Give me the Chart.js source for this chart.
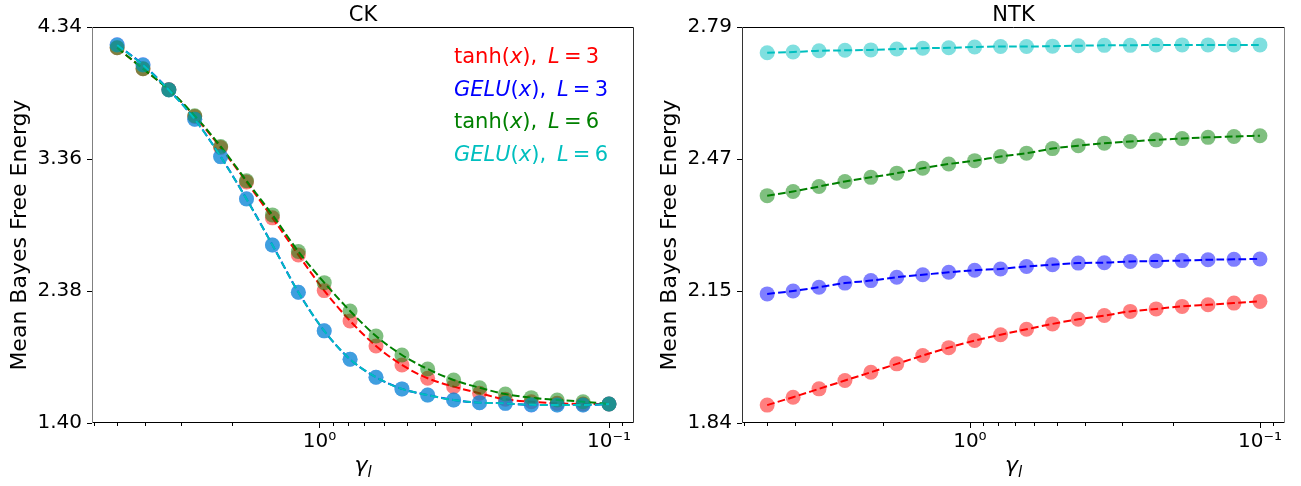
<!DOCTYPE html>
<html>
<head>
<meta charset="utf-8">
<script src="https://cdn.jsdelivr.net/npm/chart.js"></script>
<style>
  body { margin: 0; background: #fff; }
  #wrap { position: relative; width: 1301px; height: 486px; }
  canvas { position: absolute; top: 0; }
</style>
</head>
<body>
<div id="wrap">
  <canvas id="ckChart" width="650" height="486" style="left:0"></canvas>
  <canvas id="ntkChart" width="651" height="486" style="left:650px"></canvas>
</div>
<script>
// gamma_l grid, shared by both panels
const gammas = [5.000, 4.070, 3.313, 2.697, 2.195, 1.787, 1.454, 1.183, 0.963, 0.784,
                0.638, 0.519, 0.423, 0.344, 0.280, 0.228, 0.1855, 0.151, 0.1229, 0.100];

// CK panel
const ckTanhL3 = [4.186, 4.030, 3.874, 3.676, 3.445, 3.190, 2.923, 2.648, 2.383, 2.158,
                  1.972, 1.831, 1.732, 1.670, 1.621, 1.576, 1.558, 1.546, 1.541, 1.541];
const ckGeluL3 = [4.208, 4.060, 3.874, 3.656, 3.378, 3.064, 2.722, 2.371, 2.084, 1.873,
                  1.740, 1.653, 1.608, 1.571, 1.551, 1.546, 1.534, 1.534, 1.534, 1.541];
const ckTanhL6 = [4.186, 4.030, 3.874, 3.681, 3.453, 3.198, 2.945, 2.673, 2.442, 2.232,
                  2.046, 1.905, 1.801, 1.719, 1.662, 1.615, 1.588, 1.571, 1.558, 1.541];
const ckGeluL6 = [4.206, 4.058, 3.872, 3.655, 3.377, 3.063, 2.721, 2.371, 2.084, 1.873,
                  1.740, 1.653, 1.607, 1.571, 1.551, 1.546, 1.535, 1.534, 1.534, 1.541];

// NTK panel
const ntkTanhL3 = [1.879, 1.898, 1.918, 1.938, 1.958, 1.978, 1.998, 2.017, 2.034, 2.048,
                   2.061, 2.074, 2.085, 2.094, 2.104, 2.110, 2.116, 2.120, 2.124, 2.128];
const ntkGeluL3 = [2.146, 2.153, 2.162, 2.172, 2.178, 2.186, 2.192, 2.198, 2.203, 2.206,
                   2.212, 2.216, 2.220, 2.221, 2.224, 2.225, 2.226, 2.228, 2.229, 2.230];
const ntkTanhL6 = [2.382, 2.392, 2.404, 2.416, 2.426, 2.436, 2.448, 2.458, 2.466, 2.476,
                   2.484, 2.495, 2.502, 2.508, 2.512, 2.516, 2.519, 2.522, 2.524, 2.526];
const ntkGeluL6 = [2.725, 2.727, 2.730, 2.731, 2.732, 2.734, 2.736, 2.737, 2.739, 2.740,
                   2.740, 2.741, 2.742, 2.743, 2.743, 2.744, 2.744, 2.744, 2.744, 2.744];

// axis ticks
const ckYTicks = [1.40, 2.38, 3.36, 4.34];
const ntkYTicks = [1.836, 2.153, 2.470, 2.787];
const xTickValues = [6, 5, 4, 3, 2, 1, 0.9, 0.8, 0.7, 0.6, 0.5, 0.4, 0.3, 0.2, 0.1, 0.09];
const xTickLabels = { 1: '10\u2070', 0.1: '10\u207B\u00B9' };

// series colours, in drawing order (later ones sit on top)
const colors = ['#ff0000', '#0000ff', '#008000', '#00bfbf'];

// legend entries: [text, italic]
const legendParts = [
  [['tanh(', 0], ['x', 1], ['), \u2009', 0], ['L', 1], ['\u2009=\u20093', 0]],
  [['GELU', 1], ['(', 0], ['x', 1], ['), \u2009', 0], ['L', 1], ['\u2009=\u20093', 0]],
  [['tanh(', 0], ['x', 1], ['), \u2009', 0], ['L', 1], ['\u2009=\u20096', 0]],
  [['GELU', 1], ['(', 0], ['x', 1], ['), \u2009', 0], ['L', 1], ['\u2009=\u20096', 0]]
];

const FONT = '"DejaVu Sans"';
Chart.defaults.font.family = FONT;
Chart.defaults.color = '#000';

function fade(hex) {
  const n = parseInt(hex.slice(1), 16);
  return 'rgba(' + (n >> 16) + ',' + ((n >> 8) & 255) + ',' + (n & 255) + ',0.5)';
}

// spines, tick marks, title, axis labels, legend
const decorPlugin = {
  id: 'decor',
  afterDraw(chart, args, opts) {
    const { ctx, chartArea: a, scales } = chart;
    ctx.save();
    ctx.lineWidth = 1;
    ctx.strokeStyle = '#000';

    scales.x.ticks.forEach(t => {
      const px = Math.round(scales.x.getPixelForValue(t.value)) + 0.5;
      const len = xTickLabels[t.value] ? 5 : 3;
      ctx.beginPath();
      ctx.moveTo(px, a.bottom);
      ctx.lineTo(px, a.bottom + len);
      ctx.stroke();
    });
    scales.y.ticks.forEach(t => {
      const py = Math.round(scales.y.getPixelForValue(t.value)) + 0.5;
      ctx.beginPath();
      ctx.moveTo(a.left - 5, py);
      ctx.lineTo(a.left, py);
      ctx.stroke();
    });

    const L = Math.round(a.left) + 0.5, R = Math.round(a.right) - 0.5;
    const T = Math.round(a.top) + 0.5, B = Math.round(a.bottom) - 0.5;
    const edge = (x1, y1, x2, y2, c) => {
      ctx.strokeStyle = c;
      ctx.beginPath(); ctx.moveTo(x1, y1); ctx.lineTo(x2, y2); ctx.stroke();
    };
    edge(L, T, R, T, '#000');
    edge(L, B, R, B, '#000');
    edge(L, T, L, B, opts.leftSpine);
    edge(R, T, R, B, opts.rightSpine);

    ctx.fillStyle = '#000';
    ctx.textAlign = 'center';
    ctx.textBaseline = 'alphabetic';
    ctx.font = '21px ' + FONT;
    ctx.fillText(opts.title, (a.left + a.right) / 2, 20.5);

    // x label: gamma with subscript l
    const cx = (a.left + a.right) / 2;
    ctx.font = 'italic 22px ' + FONT;
    const gw = ctx.measureText('\u03B3').width;
    ctx.font = 'italic 15px ' + FONT;
    const sw = ctx.measureText('l').width;
    ctx.textAlign = 'left';
    ctx.font = 'italic 22px ' + FONT;
    ctx.fillText('\u03B3', cx - (gw + sw) / 2, 472);
    ctx.font = 'italic 15px ' + FONT;
    ctx.fillText('l', cx - (gw + sw) / 2 + gw, 477);

    // y label
    ctx.save();
    ctx.translate(26, 235);
    ctx.rotate(-Math.PI / 2);
    ctx.textAlign = 'center';
    ctx.font = '22px ' + FONT;
    ctx.fillText('Mean Bayes Free Energy', 0, 0);
    ctx.restore();

    if (opts.legend) {
      ctx.textAlign = 'left';
      opts.legend.forEach((parts, i) => {
        let x = 454;
        const y = 63.3 + i * 32.5;
        ctx.fillStyle = colors[i];
        parts.forEach(([txt, it]) => {
          ctx.font = (it ? 'italic ' : '') + '21px ' + FONT;
          ctx.fillText(txt, x, y);
          x += ctx.measureText(txt).width;
        });
      });
    }
    ctx.restore();
  }
};

function makeChart(id, seriesValues, yTicks, title, legend, leftSpine, rightSpine) {
  const datasets = [];
  const n = seriesValues.length;
  seriesValues.forEach((vals, i) => {
    const pts = gammas.map((g, k) => ({ x: g, y: vals[k] }));
    datasets.push({
      data: pts, showLine: false, pointRadius: 7.5, pointHoverRadius: 7.5,
      pointBackgroundColor: fade(colors[i]), pointBorderWidth: 0, order: 2 * (n - i)
    });
    datasets.push({
      data: pts, showLine: true, pointRadius: 0, borderColor: colors[i], borderWidth: 2,
      borderDash: [7.7, 3.3], cubicInterpolationMode: 'monotone', order: 2 * (n - i) - 1
    });
  });

  return new Chart(document.getElementById(id), {
    type: 'scatter',
    data: { datasets },
    options: {
      responsive: false,
      animation: false,
      layout: { padding: { top: 27, right: 16, bottom: 0, left: 0 } },
      plugins: {
        legend: { display: false },
        tooltip: { enabled: false },
        decor: { title, legend, leftSpine, rightSpine }
      },
      scales: {
        x: {
          type: 'logarithmic',
          reverse: true,
          min: 0.08196,
          max: 6.106,
          grid: { display: false, drawTicks: false },
          border: { display: false },
          afterBuildTicks: s => { s.ticks = xTickValues.map(v => ({ value: v })); },
          afterFit: s => { s.height = 63; },
          ticks: {
            autoSkip: false, maxRotation: 0, padding: 7,
            font: { size: 20 },
            callback: v => xTickLabels[v] || ''
          }
        },
        y: {
          min: yTicks[0],
          max: yTicks[yTicks.length - 1],
          grid: { display: false, drawTicks: false },
          border: { display: false },
          afterBuildTicks: s => { s.ticks = yTicks.map(v => ({ value: v })); },
          afterFit: s => { s.width = 92; },
          ticks: {
            padding: 10,
            font: { size: 20 },
            callback: v => v.toFixed(2)
          }
        }
      }
    },
    plugins: [decorPlugin]
  });
}

makeChart('ckChart', [ckTanhL3, ckGeluL3, ckTanhL6, ckGeluL6], ckYTicks, 'CK', legendParts, '#808080', '#333');
makeChart('ntkChart', [ntkTanhL3, ntkGeluL3, ntkTanhL6, ntkGeluL6], ntkYTicks, 'NTK', null, '#333', '#808080');
</script>
</body>
</html>
